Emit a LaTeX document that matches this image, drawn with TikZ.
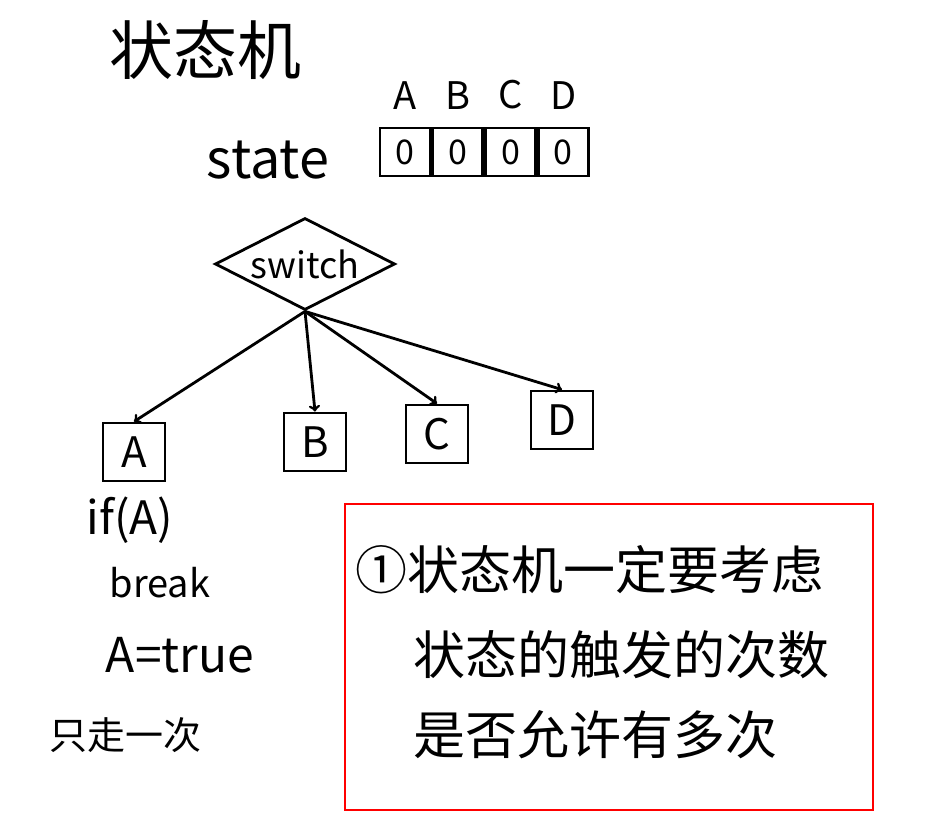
\documentclass[tikz,border=0pt]{standalone}
\usepackage{fontspec}
\setmainfont{Noto Sans CJK SC}
\usetikzlibrary{positioning}
\usetikzlibrary{shapes.geometric}
\newcommand{\widthcell}{50pt}
\newcommand{\widthbranch}{62pt}
\tikzset{
    ink/.style={line width=2.8pt},
    cell/.style={ink, draw, rectangle, minimum width=\widthcell, minimum height=48pt, inner sep=0pt, font=\fontsize{34}{34}\selectfont},
    choice/.style={ink, draw, diamond, aspect=2, minimum width=180pt, minimum height=92pt, inner sep=0pt, font=\fontsize{36}{36}\selectfont},
    branch/.style={ink, draw, rectangle, minimum width=\widthbranch, minimum height=58pt, inner sep=0pt, font=\fontsize{42}{42}\selectfont},
    hand/.style={font=\fontsize{38}{38}\selectfont},
    big/.style={font=\fontsize{54}{54}\selectfont},
    remark/.style={line width=2.6pt, draw=red, rectangle, minimum width=528pt, minimum height=306pt},
    note/.style={anchor=west, font=\fontsize{52}{52}\selectfont},
}

\begin{document}
\begin{tikzpicture}[x=1pt, y=-1pt]
    \useasboundingbox (0,0) rectangle (927,826);

    \path
        (205,50) node[big, font=\fontsize{64}{64}\selectfont] (title) {状态机}
        (268,160) node[big] (state) {state}
        (405,152) node[cell] (cell-a) {0};
    \node[cell, right=0pt of cell-a] (cell-b) {0};
    \node[cell, right=0pt of cell-b] (cell-c) {0};
    \node[cell, right=0pt of cell-c] (cell-d) {0};

    \node[hand, above=14pt of cell-a] (lbl-a) {A};
    \node[hand, above=14pt of cell-b] (lbl-b) {B};
    \node[hand, above=14pt of cell-c] (lbl-c) {C};
    \node[hand, above=14pt of cell-d] (lbl-d) {D};

    \node[choice] (switch) at (305,264) {switch};

    \path
        (134,452) node[branch] (box-a) {A}
        (315,442) node[branch] (box-b) {B}
        (437,434) node[branch] (box-c) {C}
        (562,420) node[branch] (box-d) {D};

    \draw[->, ink] (switch.south) -- (box-a.north);
    \draw[->, ink] (switch.south) -- (box-b.north);
    \draw[->, ink] (switch.south) -- (box-c.north);
    \draw[->, ink] (switch.south) -- (box-d.north);

    \path
        (130,520) node[hand, font=\fontsize{46}{46}\selectfont] (cond) {if(A)}
        (160,583) node[hand] (brk) {break}
        (180,655) node[hand, font=\fontsize{48}{48}\selectfont] (assign) {A=true}
        (125,735) node[hand] (once) {只走一次};

    % red remark box
    \node[remark] (remark-box) at (609,657) {};
    \path
        (352,570) node[note] (remark-1) {①状态机一定要考虑}
        (410,655) node[note] (remark-2) {状态的触发的次数}
        (410,735) node[note] (remark-3) {是否允许有多次};
\end{tikzpicture}
\end{document}
